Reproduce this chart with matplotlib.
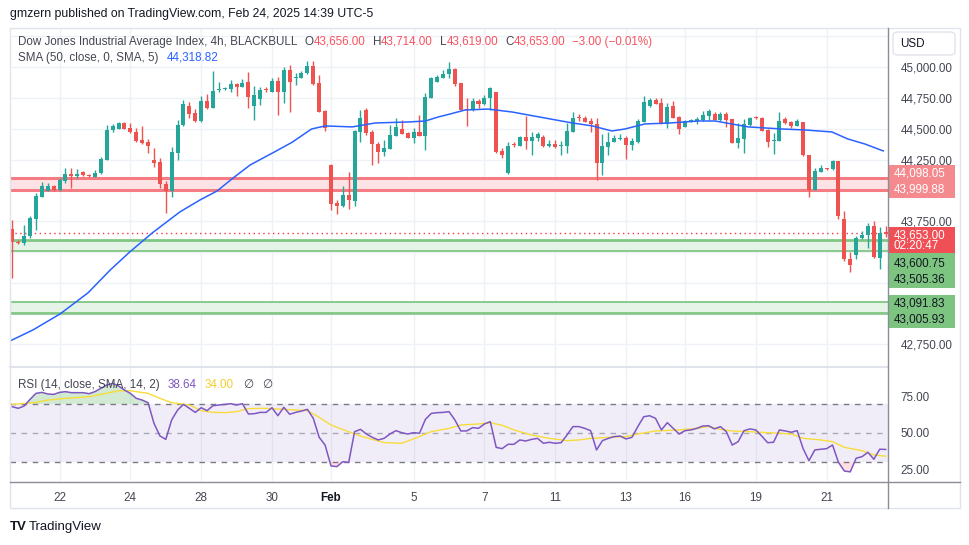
import numpy as np
import matplotlib
matplotlib.use('Agg')
import matplotlib.pyplot as plt
from matplotlib.patches import Rectangle, FancyBboxPatch
from matplotlib.lines import Line2D

plt.rcParams['font.family'] = ['Liberation Sans', 'DejaVu Sans']

# 4h candles, Dow Jones (BLACKBULL), Jan 21 - Feb 24 2025
opens = [43689, 43584, 43573, 43627, 43770, 43951, 43997, 44038, 44000, 44073,
         44135, 44116, 44151, 44127, 44113, 44138, 44251, 44489, 44503, 44549,
         44511, 44473, 44411, 44395, 44249, 44235, 44054, 43992, 44305, 44532,
         44686, 44630, 44565, 44724, 44673, 44813, 44822, 44827, 44862, 44843,
         44878, 44689, 44741, 44824, 44803, 44889, 44803, 44978, 44916, 44916,
         44951, 45011, 44873, 44646, 44208, 43900, 43870, 43965, 43911, 44478,
         44654, 44476, 44378, 44316, 44340, 44446, 44500, 44470, 44430, 44476,
         44446, 44754, 44884, 44916, 44943, 44986, 44873, 44662, 44654, 44727,
         44703, 44754, 44800, 44322, 44138, 44373, 44365, 44435, 44405, 44430,
         44432, 44357, 44376, 44362, 44357, 44478, 44597, 44592, 44567, 44540,
         44219, 44354, 44395, 44422, 44424, 44370, 44395, 44559, 44686, 44735,
         44711, 44540, 44684, 44597, 44519, 44565, 44565, 44573, 44608, 44622,
         44573, 44622, 44581, 44389, 44419, 44532, 44595, 44592, 44492, 44405,
         44403, 44581, 44559, 44524, 44557, 44289, 44005, 44154, 44181, 44178,
         44240, 43770, 43446, 43478, 43611, 43635, 43711, 43451, 43656]
closes = [43581, 43573, 43630, 43776, 43959, 44038, 44035, 44000, 44084, 44135,
          44116, 44130, 44122, 44116, 44143, 44257, 44489, 44524, 44549, 44503,
          44473, 44405, 44384, 44365, 44227, 44049, 43992, 44313, 44532, 44700,
          44624, 44565, 44727, 44673, 44805, 44824, 44832, 44862, 44843, 44873,
          44762, 44776, 44816, 44819, 44889, 44803, 44978, 44884, 44922, 44954,
          45011, 44865, 44640, 44511, 43894, 43870, 43965, 43919, 44481, 44589,
          44470, 44381, 44316, 44346, 44451, 44519, 44462, 44430, 44473, 44446,
          44762, 44911, 44922, 44949, 44986, 44868, 44654, 44657, 44727, 44703,
          44751, 44832, 44316, 44289, 44362, 44367, 44435, 44405, 44432, 44459,
          44357, 44378, 44349, 44365, 44484, 44589, 44592, 44559, 44538, 44227,
          44362, 44392, 44430, 44427, 44370, 44403, 44565, 44719, 44735, 44703,
          44540, 44678, 44592, 44500, 44565, 44570, 44581, 44613, 44646, 44573,
          44622, 44573, 44389, 44427, 44540, 44592, 44589, 44484, 44397, 44411,
          44565, 44551, 44524, 44565, 44284, 44005, 44157, 44186, 44176, 44240,
          43789, 43440, 43392, 43613, 43640, 43711, 43457, 43657, 43653]
highs = [43762, 43597, 43716, 43789, 43978, 44065, 44062, 44046, 44100, 44181,
         44186, 44173, 44162, 44135, 44167, 44273, 44532, 44538, 44559, 44559,
         44551, 44505, 44527, 44416, 44343, 44267, 44078, 44351, 44570, 44732,
         44722, 44659, 44765, 44784, 44970, 44884, 44843, 44897, 44873, 44905,
         44965, 44849, 44838, 44843, 44911, 44919, 45005, 45019, 44951, 44970,
         45051, 45051, 44938, 44654, 44213, 43924, 44038, 44154, 44492, 44654,
         44668, 44489, 44397, 44411, 44532, 44592, 44570, 44478, 44505, 44613,
         44789, 44924, 44938, 44978, 45046, 44992, 44876, 44749, 44749, 44741,
         44776, 44838, 44803, 44343, 44392, 44392, 44446, 44605, 44473, 44473,
         44451, 44411, 44411, 44403, 44546, 44635, 44619, 44603, 44592, 44592,
         44459, 44478, 44451, 44459, 44443, 44430, 44578, 44768, 44749, 44749,
         44749, 44708, 44727, 44605, 44573, 44578, 44597, 44646, 44662, 44635,
         44635, 44641, 44581, 44546, 44578, 44597, 44608, 44597, 44500, 44465,
         44635, 44597, 44565, 44578, 44559, 44289, 44181, 44208, 44186, 44246,
         44240, 43830, 43500, 43627, 43667, 43735, 43749, 43705, 43714]
lows = [43289, 43565, 43554, 43613, 43681, 43946, 43992, 43997, 43997, 44059,
        44024, 44105, 44116, 44111, 44108, 44135, 44246, 44478, 44500, 44495,
        44465, 44392, 44376, 44308, 44192, 44024, 43819, 43951, 44251, 44527,
        44586, 44559, 44559, 44659, 44668, 44797, 44813, 44803, 44768, 44838,
        44668, 44573, 44695, 44797, 44797, 44613, 44708, 44635, 44857, 44911,
        44946, 44857, 44635, 44484, 43838, 43813, 43862, 43846, 43870, 44397,
        44451, 44203, 44219, 44276, 44335, 44443, 44457, 44422, 44389, 44443,
        44330, 44749, 44878, 44911, 44916, 44851, 44651, 44524, 44649, 44673,
        44695, 44654, 44308, 44262, 44135, 44349, 44357, 44338, 44284, 44403,
        44354, 44349, 44343, 44284, 44308, 44473, 44567, 44554, 44478, 44084,
        44122, 44289, 44392, 44408, 44257, 44330, 44389, 44554, 44681, 44700,
        44538, 44511, 44586, 44462, 44513, 44559, 44543, 44567, 44576, 44570,
        44567, 44519, 44386, 44343, 44308, 44527, 44581, 44481, 44349, 44297,
        44400, 44540, 44511, 44522, 44281, 43943, 44003, 44149, 44165, 44167,
        43767, 43424, 43338, 43446, 43605, 43532, 43451, 43362, 43619]

# SMA(50): (candle index, value)
sma_idx = [-0.4, 3.5, 8.1, 12.8, 16.6, 19.9, 23.7, 28.4, 31.8, 34.7, 37.4, 40.3,
           44.5, 47.4, 50.7, 53, 57.6, 61.5, 67.1, 70, 72.2, 74.2, 76.7, 80.6,
           84.7, 90.3, 94.9, 98.3, 101.6, 103.8, 107.2, 111.5, 116.2, 119.1,
           124.7, 130.5, 134.4, 138.9, 141.6, 144.5, 147.6]
sma_val = [42778, 42868, 42998, 43168, 43355, 43501, 43655, 43826, 43923, 43996,
           44101, 44207, 44315, 44391, 44499, 44524, 44516, 44548, 44556, 44564,
           44597, 44621, 44653, 44661, 44637, 44588, 44548, 44524, 44483, 44499,
           44540, 44548, 44564, 44564, 44516, 44499, 44491, 44475, 44418, 44377,
           44321]

rsi = [68.1, 67.0, 68.6, 73.2, 77.3, 78.0, 76.9, 76.6, 78.0, 78.5,
       77.8, 77.8, 77.8, 77.1, 78.5, 80.8, 83.1, 84.2, 82.4, 79.6,
       77.3, 73.9, 72.7, 70.9, 56.7, 48.0, 45.6, 59.0, 65.8, 69.7,
       67.0, 64.2, 67.4, 65.4, 68.8, 69.3, 69.7, 70.2, 69.3, 70.2,
       63.1, 63.3, 64.2, 64.2, 67.4, 61.9, 67.7, 62.9, 64.2, 65.1,
       66.3, 60.1, 47.0, 41.7, 27.3, 26.8, 30.2, 29.7, 50.9, 52.5,
       49.3, 47.0, 45.2, 46.3, 49.3, 51.6, 50.2, 49.3, 50.2, 49.8,
       59.4, 63.5, 64.0, 64.2, 64.7, 59.0, 51.4, 51.4, 53.7, 53.2,
       56.2, 57.8, 40.1, 39.2, 42.2, 42.2, 45.2, 44.5, 45.6, 46.3,
       42.9, 43.6, 42.9, 43.3, 48.6, 54.4, 54.4, 53.2, 51.6, 38.3,
       44.7, 46.3, 47.5, 47.9, 45.9, 47.0, 54.4, 61.2, 61.9, 60.1,
       52.1, 57.1, 53.2, 49.3, 51.6, 52.1, 53.2, 54.8, 55.0, 52.8,
       54.4, 50.9, 41.7, 44.0, 51.6, 52.8, 52.1, 47.9, 43.3, 43.6,
       52.1, 51.4, 50.5, 51.6, 39.4, 30.9, 38.3, 38.8, 39.2, 41.7,
       29.8, 23.8, 23.2, 32.6, 33.7, 36.7, 31.9, 38.8, 38.64]

rsi_ma_idx = [0, 4, 6, 9, 13, 15, 18, 20, 23, 25, 27, 30, 32, 34, 36, 38, 40, 43,
              46, 50, 52, 54, 57, 59, 61, 63, 66, 68, 71, 74, 76, 79, 81, 83, 85,
              88, 91, 94, 96, 98, 101, 104, 106, 109, 113, 116, 118, 120, 122,
              125, 128, 130, 132, 134, 137, 139, 141, 144, 146, 148]
rsi_ma = [69.7, 71.1, 72.7, 73.9, 75.0, 76.6, 79.1, 79.1, 77.3, 73.9, 70.9, 69.3,
          65.4, 64.2, 64.0, 64.7, 66.8, 67.0, 66.3, 65.4, 60.8, 55.5, 50.9, 47.9,
          45.6, 43.4, 42.9, 45.9, 50.9, 53.2, 55.5, 56.2, 57.1, 55.3, 52.1, 48.6,
          46.3, 44.7, 45.2, 46.3, 47.0, 47.5, 49.3, 51.4, 52.1, 53.2, 54.4, 52.5,
          51.4, 50.9, 50.2, 49.8, 49.3, 46.3, 45.2, 44.0, 40.1, 37.8, 34.9, 34.0]

tick_idx = [8, 20, 32, 44, 54, 68, 80, 92, 104, 114, 126, 138]
tick_lab = ['22', '24', '28', '30', 'Feb', '5', '7', '11', '13', '16', '19', '21']

price_ticks = [45000, 44750, 44500, 44250, 43750, 42750]
resistance = (43999.88, 44098.05)
support1 = (43505.36, 43600.75)
support2 = (43005.93, 43091.83)
last_price = 43653.00

W, H = 970, 545
UP, DOWN = '#26A69A', '#EF5350'
GRID = '#EEF1F6'
TXT = '#434651'


def fx(px):
    return px / W


def fy(py):
    return 1 - py / H


fig = plt.figure(figsize=(W / 100, H / 100), dpi=100)
fig.patch.set_facecolor('white')

ax = fig.add_axes([fx(10), fy(366), fx(888) - fx(10), fy(28) - fy(366)])
rax = fig.add_axes([fx(10), fy(481), fx(888) - fx(10), fy(368) - fy(481)], sharex=ax)

o = np.array(opens, float)
c = np.array(closes, float)
h = np.array(highs, float)
l = np.array(lows, float)
x = np.arange(len(c))

# grid
for lvl in np.arange(42750, 45251, 250):
    ax.axhline(lvl, color=GRID, lw=1, zorder=0)
for t in tick_idx:
    ax.axvline(t, color=GRID, lw=1, zorder=0)
    rax.axvline(t, color=GRID, lw=1, zorder=0)

# zones
def zone(lo, hi, fill, edge, lw_top, lw_bot):
    ax.axhspan(lo, hi, color=fill, lw=0, zorder=1)
    ax.axhline(hi, color=edge, lw=lw_top, zorder=1.5)
    ax.axhline(lo, color=edge, lw=lw_bot, zorder=1.5)

zone(*resistance, '#FDE3E5', '#F47C82', 2.2, 2.2)
zone(*support1, '#E6F4E7', '#81C784', 2.0, 1.3)
zone(*support2, '#E6F4E7', '#81C784', 1.3, 1.3)
ax.axhline(support2[0] - 10, color='#81C784', lw=1.1, zorder=1.5)

ax.axhline(last_price, color='#F23645', lw=1, ls=(0, (1, 2.5)), zorder=2)

# candles
up = c >= o
cols = np.where(up, UP, DOWN)
mid = (o + c) / 2
body_h = np.maximum(np.abs(c - o), 9)
ax.vlines(x, l, h, colors=cols, lw=1, zorder=3)
ax.bar(x, body_h, bottom=mid - body_h / 2, width=0.68, color=cols, lw=0, zorder=4)

ax.plot(sma_idx, sma_val, color='#2962FF', lw=1.1, zorder=5)

ax.set_xlim(-0.4, 148.4)
ax.set_ylim(42575, 45319)
ax.yaxis.tick_right()
ax.set_yticks(price_ticks)
ax.set_yticklabels([f'{p:,.2f}' for p in price_ticks])
ax.tick_params(axis='y', length=0, pad=9, labelsize=8.4, labelcolor=TXT)
ax.tick_params(axis='x', length=0, labelbottom=False)
for s in ax.spines.values():
    s.set_visible(False)

# RSI panel
r = np.array(rsi)
rax.axhspan(30, 70, color='#7E57C2', alpha=0.1, lw=0, zorder=1)
rax.axhline(70, color='#787B86', lw=1, ls=(0, (4, 4)), zorder=2)
rax.axhline(30, color='#787B86', lw=1, ls=(0, (4, 4)), zorder=2)
rax.axhline(50, color='#A8AAB3', lw=1, ls=(0, (4, 4)), zorder=2)
rax.fill_between(x, 70, r, where=r > 70, interpolate=True, color='#4CAF50', alpha=0.25, lw=0, zorder=2)
rax.fill_between(x, r, 30, where=r < 30, interpolate=True, color='#F23645', alpha=0.15, lw=0, zorder=2)
rax.plot(rsi_ma_idx, rsi_ma, color='#F7DC3A', lw=1, zorder=3)
rax.plot(x, r, color='#7E57C2', lw=1.1, zorder=4)
rax.set_ylim(16.9, 94.8)
rax.yaxis.tick_right()
rax.set_yticks([75, 50, 25])
rax.set_yticklabels(['75.00', '50.00', '25.00'])
rax.tick_params(axis='y', length=0, pad=9, labelsize=8.4, labelcolor=TXT)
rax.set_xticks(tick_idx)
rax.set_xticklabels(tick_lab)
rax.tick_params(axis='x', length=0, pad=8, labelsize=8.4, labelcolor=TXT)
for lab in rax.get_xticklabels():
    if lab.get_text() == 'Feb':
        lab.set_fontweight('bold')
        lab.set_color('#131722')
for s in rax.spines.values():
    s.set_visible(False)

# frame lines
fig.add_artist(Rectangle((fx(10), fy(508)), fx(960) - fx(10), (508 - 28) / H,
                         transform=fig.transFigure, fill=False, ec='#E0E3EB', lw=1))
fig.add_artist(Line2D([fx(10), fx(888)], [fy(366.5), fy(366.5)], transform=fig.transFigure,
                      color='#E0E3EB', lw=1.5))
fig.add_artist(Line2D([fx(10), fx(960)], [fy(481.5), fy(481.5)], transform=fig.transFigure,
                      color='#8A8D96', lw=1))
fig.add_artist(Line2D([fx(888.5), fx(888.5)], [fy(28), fy(508)], transform=fig.transFigure,
                      color='#8A8D96', lw=1))

# right-side price boxes
def box(y0, y1, color, lines, tcolor):
    fig.add_artist(Rectangle((fx(889), fy(y1)), fx(955) - fx(889), (y1 - y0) / H,
                             transform=fig.transFigure, color=color, lw=0))
    for ty, s in lines:
        fig.text(fx(894), fy(ty), s, color=tcolor, fontsize=8.4, va='center', ha='left')

box(165, 198, '#F48A8E', [(174, f'{resistance[1]:,.2f}'), (190, f'{resistance[0]:,.2f}')], 'white')
box(227, 253, '#EF4F55', [(235, f'{last_price:,.2f}'), (246, '02:20:47')], 'white')
box(253, 288, '#7DC481', [(264, f'{support1[1]:,.2f}'), (280, f'{support1[0]:,.2f}')], '#131722')
box(295, 328, '#7DC481', [(303, f'{support2[1]:,.2f}'), (320, f'{support2[0]:,.2f}')], '#131722')

fig.add_artist(FancyBboxPatch((fx(893), fy(55)), fx(955) - fx(893), 23 / H,
                              boxstyle='round,pad=0,rounding_size=0.006',
                              transform=fig.transFigure, fc='white', ec='#E0E3EB', lw=1))
fig.text(fx(900), fy(44), 'USD', fontsize=8.4, color='#131722', va='center', ha='left')

# legends
renderer = fig.canvas.get_renderer()


def seq(px, py, parts, size=8.4):
    for s, col, gap in parts:
        t = fig.text(fx(px), fy(py), s, color=col, fontsize=size, va='center', ha='left')
        px += t.get_window_extent(renderer).width + gap
    return px

fig.text(fx(10), fy(14), 'gmzern published on TradingView.com, Feb 24, 2025 14:39 UTC-5',
         fontsize=8.8, color='#131722', va='center', ha='left')

seq(18, 42, [('Dow Jones Industrial Average Index, 4h, BLACKBULL', TXT, 8)])
RED = '#F7525F'
seq(305, 42, [('O', TXT, 0), ('43,656.00', RED, 7), ('H', TXT, 0), ('43,714.00', RED, 7),
              ('L', TXT, 0), ('43,619.00', RED, 7), ('C', TXT, 0), ('43,653.00', RED, 7),
              ('\u22123.00 (\u22120.01%)', RED, 0)])
seq(18, 58, [('SMA (50, close, 0, SMA, 5)', TXT, 8), ('44,318.82', '#2962FF', 0)])
seq(18, 385, [('RSI (14, close, SMA, 14, 2)', TXT, 8), ('38.64', '#7E57C2', 8),
              ('34.00', '#F2CF2E', 10), ('\u2205', TXT, 8), ('\u2205', TXT, 0)])

fig.text(fx(10), fy(527), 'TV', fontsize=9.5, weight='heavy', color='#131722', va='center', ha='left')
fig.text(fx(29), fy(527), 'TradingView', fontsize=9.5, color='#131722', va='center', ha='left')

fig.savefig('out.png', dpi=100, facecolor='white')
